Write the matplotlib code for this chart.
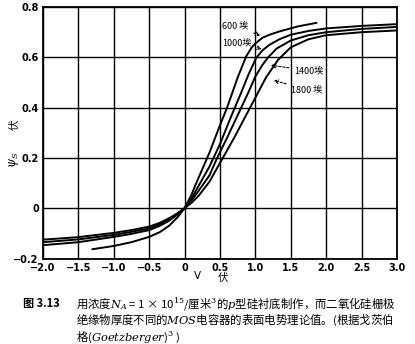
import numpy as np
import matplotlib
matplotlib.use("Agg")
import matplotlib.pyplot as plt

plt.rcParams['font.family'] = ['Noto Sans CJK SC', 'DejaVu Sans']
plt.rcParams['mathtext.fontset'] = 'dejavuserif'

# 栅氧化层厚度 600 / 1000 / 1400 / 1800 埃, 读自原图
v_600 = [-1.3, -1.0, -0.75, -0.5, -0.35, -0.22, -0.1, 0, 0.1, 0.15, 0.25, 0.35,
         0.5, 0.6, 0.75, 0.87, 0.95, 1.0, 1.1, 1.2, 1.34, 1.6, 1.86]
psi_600 = [-0.163, -0.150, -0.135, -0.114, -0.095, -0.070, -0.036, 0, 0.055,
           0.09, 0.155, 0.22, 0.33, 0.40, 0.52, 0.604, 0.64, 0.655, 0.678,
           0.69, 0.703, 0.723, 0.737]

v_1000 = [-2.0, -1.5, -1.0, -0.75, -0.5, -0.35, -0.22, -0.1, 0, 0.1, 0.2, 0.35,
          0.5, 0.65, 0.8, 0.9, 1.01, 1.1, 1.2, 1.34, 1.5, 1.75, 2.0, 2.5, 3.0]
psi_1000 = [-0.147, -0.135, -0.114, -0.102, -0.087, -0.070, -0.050, -0.025, 0,
            0.04, 0.09, 0.165, 0.255, 0.36, 0.46, 0.53, 0.597, 0.628, 0.65,
            0.672, 0.69, 0.705, 0.715, 0.725, 0.732]

v_1400 = [-2.0, -1.5, -1.0, -0.75, -0.5, -0.35, -0.22, -0.1, 0, 0.1, 0.2, 0.35,
          0.46, 0.6, 0.75, 0.9, 1.0, 1.1, 1.18, 1.3, 1.5, 1.75, 2.0, 2.5, 3.0]
psi_1400 = [-0.135, -0.124, -0.106, -0.094, -0.080, -0.064, -0.044, -0.022, 0,
            0.032, 0.07, 0.13, 0.2, 0.28, 0.37, 0.46, 0.524, 0.57, 0.60, 0.635,
            0.667, 0.688, 0.700, 0.713, 0.721]

v_1800 = [-2.0, -1.5, -1.0, -0.75, -0.5, -0.35, -0.22, -0.1, 0, 0.1, 0.2, 0.35,
          0.54, 0.7, 0.85, 1.0, 1.15, 1.32, 1.5, 1.75, 2.0, 2.5, 3.0]
psi_1800 = [-0.125, -0.115, -0.098, -0.087, -0.073, -0.058, -0.040, -0.020, 0,
            0.022, 0.05, 0.105, 0.2, 0.28, 0.36, 0.44, 0.52, 0.59, 0.64, 0.672,
            0.688, 0.700, 0.707]

x_ticks = [-2.0, -1.5, -1.0, -0.5, 0, 0.5, 1.0, 1.5, 2.0, 2.5, 3.0]
x_labels = ['−2.0', '−1.5', '−1.0', '−0.5', '0', '0.5', '1.0', '1.5', '2.0', '2.5', '3.0']
y_ticks = [-0.2, 0, 0.2, 0.4, 0.6, 0.8]
y_labels = ['−0.2', '0', '0.2', '0.4', '0.6', '0.8']

fig = plt.figure(figsize=(4.15, 3.44), dpi=100)
ax = fig.add_axes([0.1036, 0.2485, 0.853, 0.731])

for v, p in [(v_600, psi_600), (v_1000, psi_1000), (v_1400, psi_1400), (v_1800, psi_1800)]:
    ax.plot(v, p, color='black', lw=1.4, solid_joinstyle='round')

ax.set_xlim(-2.0, 3.0)
ax.set_ylim(-0.2, 0.8)
ax.set_xticks(x_ticks)
ax.set_xticklabels(x_labels, fontsize=7, fontweight='bold', family='DejaVu Sans')
ax.set_yticks(y_ticks)
ax.set_yticklabels(y_labels, fontsize=7, fontweight='bold', family='DejaVu Sans')
ax.tick_params(length=0, pad=3)
ax.grid(True, color='black', lw=1.0)
for s in ax.spines.values():
    s.set_linewidth(1.3)

# 曲线标注
arrow = dict(arrowstyle='->', color='black', lw=0.8, linestyle=(0, (2, 1.5)))
ax.annotate('600 埃', xy=(1.105, 0.683), xytext=(0.53, 0.724), fontsize=6.5,
            va='center', arrowprops=arrow)
ax.annotate('1000埃', xy=(1.13, 0.631), xytext=(0.53, 0.656), fontsize=6.5,
            va='center', arrowprops=arrow)
ax.annotate('1400埃', xy=(1.18, 0.57), xytext=(1.55, 0.547), fontsize=6.5,
            va='center', arrowprops=arrow)
ax.annotate('1800 埃', xy=(1.22, 0.511), xytext=(1.51, 0.472), fontsize=6.5,
            va='center', arrowprops=arrow)

# 坐标轴名称
fig.text(0.034, 0.535, r'$\psi_S$', rotation=90, ha='center', va='center', fontsize=8.5)
fig.text(0.036, 0.637, '伏', rotation=90, ha='center', va='center', fontsize=7.5)
fig.text(197 / 415, 1 - 276 / 344, 'V', ha='center', va='center', fontsize=7.5,
         family='DejaVu Sans')
fig.text(223 / 415, 1 - 278 / 344, '伏', ha='center', va='center', fontsize=7.5)

# 图注
fig.text(23 / 415, 1 - 303 / 344, '图 3.13', ha='left', va='center', fontsize=8,
         fontweight='bold')
fig.text(76 / 415, 1 - 303 / 344,
         '用浓度$N_A$ = 1 × 10$^{15}$/厘米$^3$的$p$型硅衬底制作，而二氧化硅栅极',
         ha='left', va='center', fontsize=8.2)
fig.text(76 / 415, 1 - 320 / 344,
         '绝缘物厚度不同的$MOS$电容器的表面电势理论值。(根据戈茨伯',
         ha='left', va='center', fontsize=8.2)
fig.text(76 / 415, 1 - 337 / 344, '格($Goetzberger$)$^3$ )',
         ha='left', va='center', fontsize=8.2)

fig.savefig('out.png', dpi=100)
